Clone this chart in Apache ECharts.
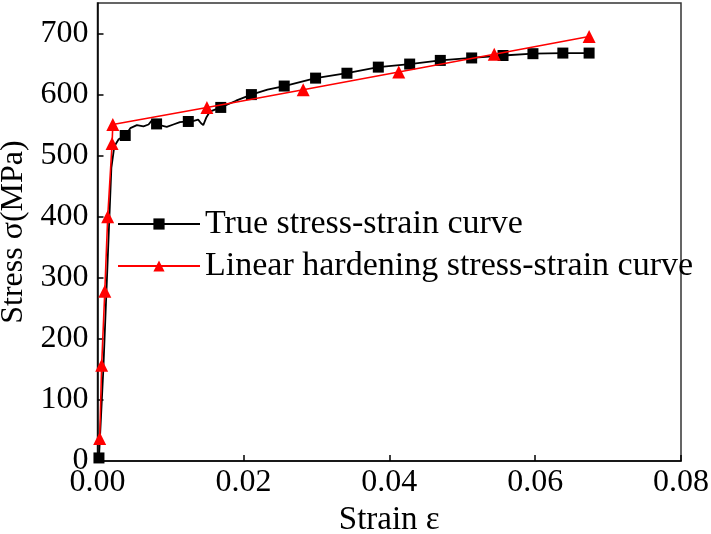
<!DOCTYPE html>
<html>
<head>
<meta charset="utf-8">
<script src="https://cdn.jsdelivr.net/npm/echarts@6/dist/echarts.min.js"></script>
<style>
  html, body { margin: 0; padding: 0; background: #fff; }
  #chart { width: 711px; height: 534px; }
</style>
</head>
<body>
<div id="chart"></div>
<script>
// true stress-strain curve (dense trace), marked points listed separately
var trueStrain = [0.0002, 0.0008, 0.0014, 0.0019, 0.0023, 0.0029, 0.0038, 0.0045, 0.0054, 0.0063,
                  0.0070, 0.0074, 0.0081, 0.0088, 0.0095, 0.0104, 0.0113, 0.01245, 0.0132, 0.0138,
                  0.0142, 0.0145, 0.0149, 0.0154, 0.0169, 0.0190, 0.0211, 0.0233, 0.0256, 0.0299,
                  0.0342, 0.0385, 0.0428, 0.0470, 0.0513, 0.0556, 0.0597, 0.0638, 0.0674];
var trueStress = [5, 150, 330, 480, 515, 527, 533, 545, 550, 548,
                  551, 557, 552, 549, 547, 551, 555, 556, 557, 559,
                  553, 550, 562, 572, 579, 590, 600, 608, 614, 627,
                  635, 645, 650, 656, 660, 664, 667, 668, 668];
var trueMarked = [0, 6, 12, 17, 24, 26, 28, 29, 30, 31, 32, 33, 34, 35, 36, 37, 38];

// linear hardening curve
var linStrain = [0.0003, 0.00057, 0.001, 0.0014, 0.002, 0.0021, 0.015, 0.0282, 0.0413, 0.0544, 0.0674];
var linStress = [37, 157, 278, 400, 520, 551, 579, 608, 637, 666, 695];

var xTicks = [0, 0.02, 0.04, 0.06, 0.08];

var font = '"Liberation Serif", "Times New Roman", serif';

var trueData = [];
for (var i = 0; i < trueStrain.length; i++) {
    var item = { value: [trueStrain[i], trueStress[i]] };
    if (trueMarked.indexOf(i) < 0) item.symbol = 'none';
    trueData.push(item);
}
var linData = [];
for (var i = 0; i < linStrain.length; i++) {
    linData.push([linStrain[i], linStress[i]]);
}

var chart = echarts.init(document.getElementById('chart'));
var option = {
    animation: false,
    backgroundColor: '#fff',
    grid: {
        left: 97.5, right: 30, top: 3, bottom: 73,
        outerBoundsMode: 'none',
        containLabel: false,
        show: true, borderColor: '#333', borderWidth: 1.5
    },
    legend: {
        orient: 'vertical',
        left: 112, top: 202,
        itemWidth: 82, itemHeight: 14, itemGap: 8,
        textStyle: { fontFamily: font, fontSize: 34, color: '#000' },
        data: ['True stress-strain curve', 'Linear hardening stress-strain curve']
    },
    xAxis: {
        type: 'value',
        min: xTicks[0], max: xTicks[xTicks.length - 1], interval: 0.02,
        name: 'Strain ε', nameLocation: 'middle', nameGap: 34,
        nameTextStyle: { fontFamily: font, fontSize: 33, color: '#000' },
        axisLine: { lineStyle: { color: '#000', width: 1.5 } },
        axisTick: { inside: true, length: 6, lineStyle: { color: '#000', width: 1.5 } },
        axisLabel: {
            fontFamily: font, fontSize: 32, color: '#000', margin: 6,
            formatter: function (v) { return v.toFixed(2); }
        },
        splitLine: { show: false }
    },
    yAxis: {
        type: 'value',
        min: 0, max: 750, interval: 100,
        name: 'Stress σ(MPa)', nameLocation: 'middle', nameGap: 62,
        nameTextStyle: { fontFamily: font, fontSize: 32, color: '#000' },
        axisLine: { lineStyle: { color: '#000', width: 1.5 } },
        axisTick: { inside: true, length: 6, lineStyle: { color: '#000', width: 1.5 } },
        axisLabel: {
            fontFamily: font, fontSize: 32, color: '#000', margin: 9,
            showMaxLabel: false,
            formatter: function (v) { return v > 700 ? '' : v; }
        },
        splitLine: { show: false }
    },
    series: [
        {
            name: 'True stress-strain curve',
            type: 'line',
            data: trueData,
            showAllSymbol: true,
            symbol: 'rect',
            symbolSize: 11,
            smooth: false,
            lineStyle: { color: '#000', width: 1.8 },
            itemStyle: { color: '#000' },
            z: 2
        },
        {
            name: 'Linear hardening stress-strain curve',
            type: 'line',
            data: linData,
            showAllSymbol: true,
            symbol: 'triangle',
            symbolSize: 13,
            lineStyle: { color: '#ff0000', width: 1.6 },
            itemStyle: { color: '#ff0000' },
            z: 3
        }
    ]
};
chart.setOption(option);
</script>
</body>
</html>
